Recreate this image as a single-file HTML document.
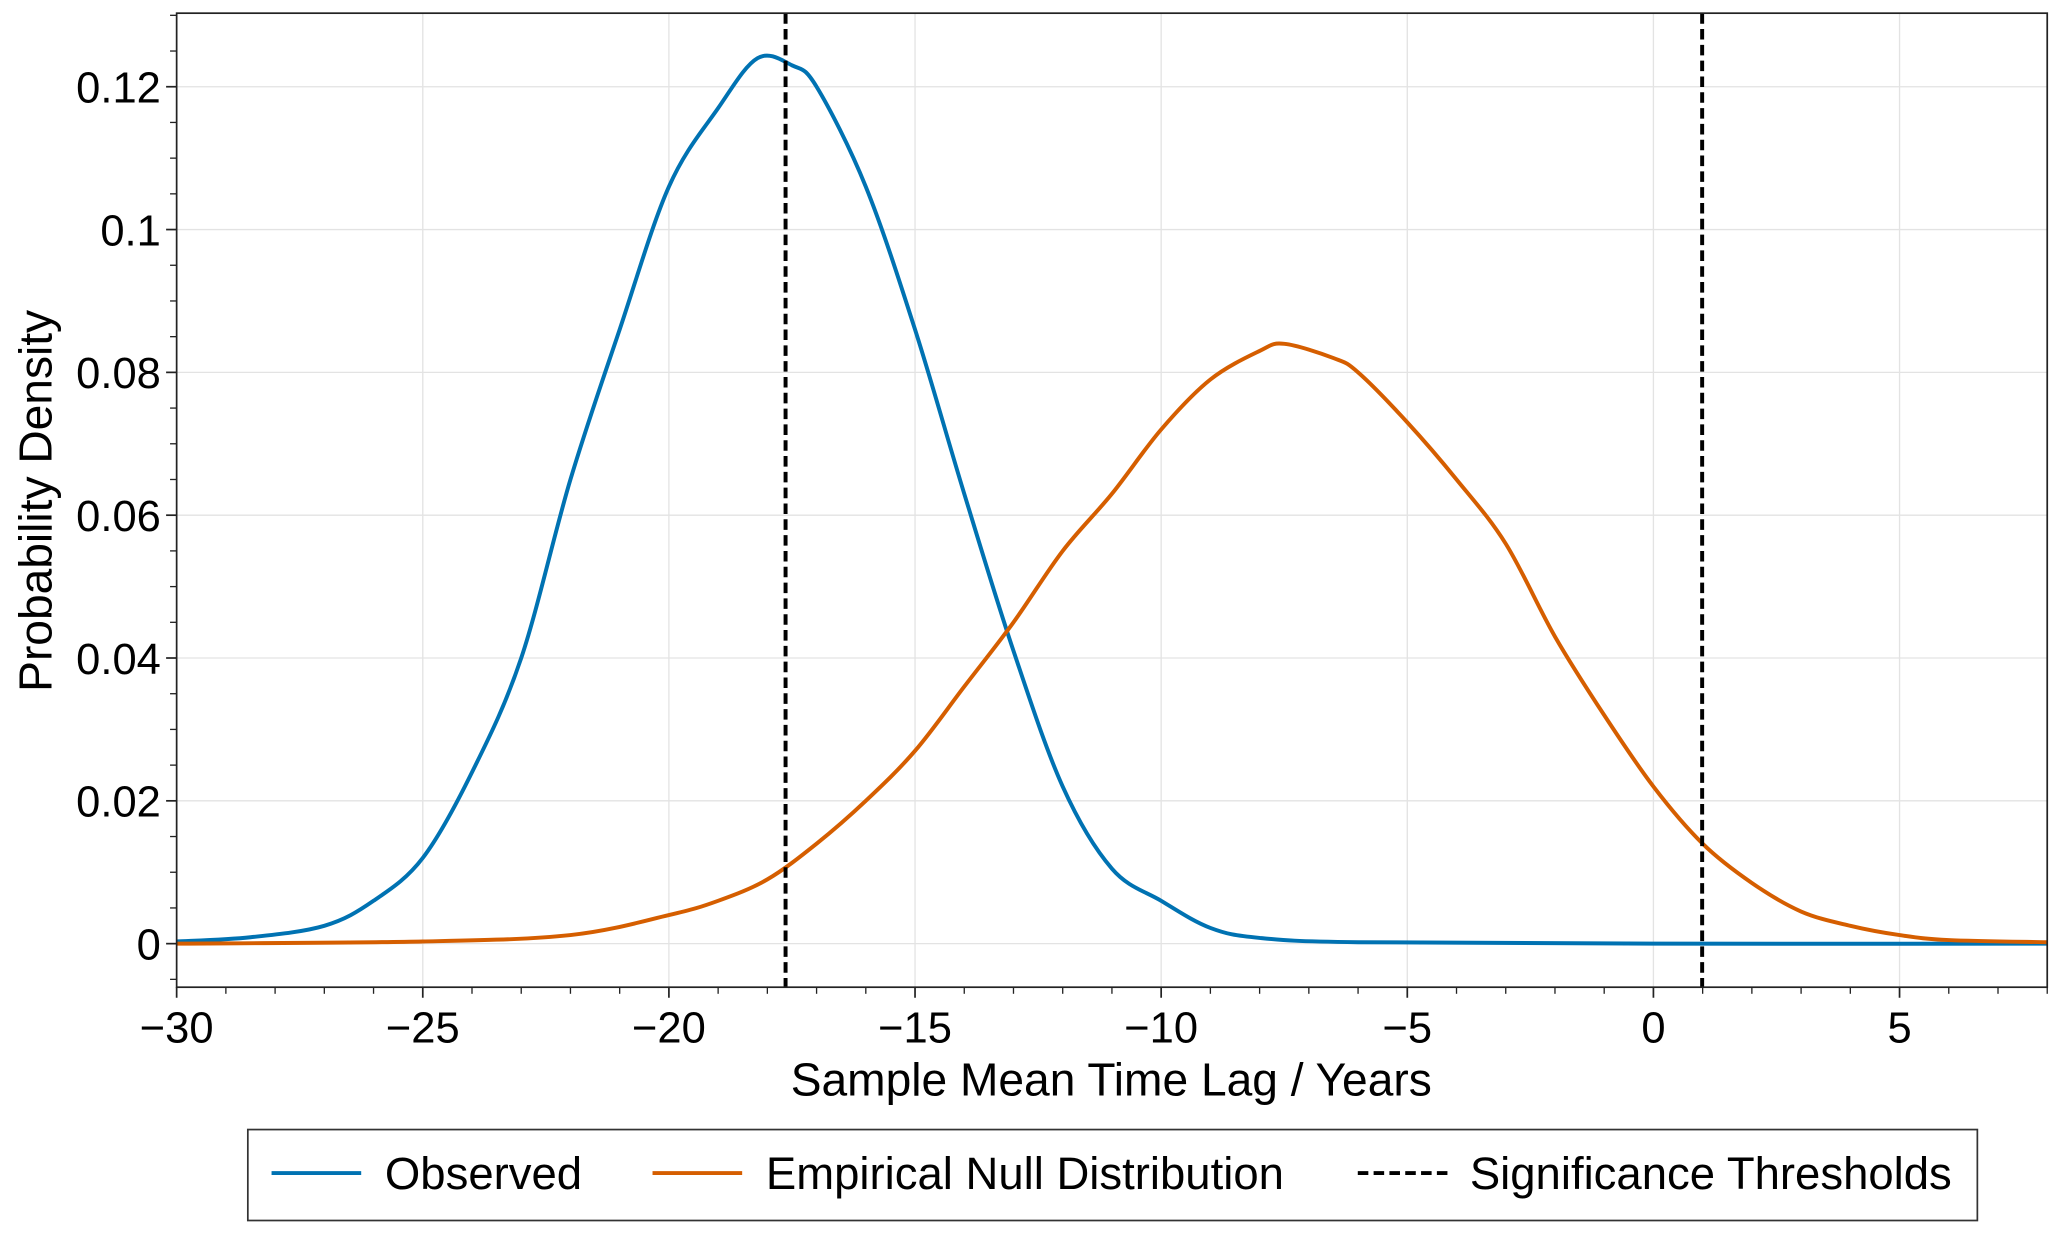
<!DOCTYPE html>
<html><head><meta charset="utf-8"><style>
html,body{margin:0;padding:0;background:#fff;}
svg{display:block;font-family:"Liberation Sans",Arial,sans-serif;}
</style></head><body>
<svg id="chart" width="2067" height="1235" viewBox="0 0 1568 937" preserveAspectRatio="none">
<g id="grid"></g>
<g id="series"></g>
<rect x="134" y="10" width="1419" height="739" fill="none" stroke="#222" stroke-width="1.3"/>
<g id="axes"></g>
<text x="843" y="831" font-size="35" text-anchor="middle">Sample Mean Time Lag / Years</text>
<text transform="translate(39,380) rotate(-90)" font-size="35" text-anchor="middle">Probability Density</text>
<g>
<rect x="188" y="857" width="1312" height="69" fill="#fff" stroke="#333" stroke-width="1.3"/>
<g>
<line x1="206" y1="890" x2="274" y2="890" stroke="#0072B2" stroke-width="3"/>
<text x="292" y="902" font-size="34.5">Observed</text></g>
<g>
<line x1="495" y1="890" x2="563" y2="890" stroke="#D55E00" stroke-width="3"/>
<text x="581" y="902" font-size="34.5">Empirical Null Distribution</text></g>
<g>
<line x1="1030" y1="890" x2="1098" y2="890" stroke="#000" stroke-width="3" stroke-dasharray="8,4"/>
<text x="1115" y="902" font-size="34.5">Significance Thresholds</text></g>
</g>
</svg>
<script>
const xTicks=[-30,-25,-20,-15,-10,-5,0,5];
const yTicks=[0,0.02,0.04,0.06,0.08,0.1,0.12];
const yTickLabels=["0","0.02","0.04","0.06","0.08","0.1","0.12"];
const obsX=[-30,-28.5,-27,-26,-25,-24,-23,-22,-21,-20,-19,-18.2,-17.5,-17,-16,-15,-14,-13,-12,-11,-10,-9,-8,-6,0,8];
const obsY=[0.0003,0.0009,0.0025,0.006,0.012,0.024,0.04,0.065,0.086,0.106,0.117,0.124,0.123,0.12,0.106,0.086,0.063,0.041,0.022,0.0105,0.006,0.0022,0.0008,0.0002,0,0];
const nullX=[-30,-25,-22,-20,-19,-18,-17,-16,-15,-14,-13,-12,-11,-10,-9,-8,-7.5,-6.5,-6,-5,-4,-3,-2,-1,0,1,2,3,4,5,6,8];
const nullY=[0,0.0003,0.0012,0.004,0.006,0.009,0.014,0.02,0.027,0.036,0.045,0.055,0.063,0.072,0.079,0.083,0.084,0.082,0.08,0.073,0.065,0.056,0.043,0.032,0.022,0.014,0.0085,0.0045,0.0025,0.0012,0.0005,0.0002];
const thresholds=[-17.63,0.99];
const X0=134,X1=1553,Y0=749,Y1=10,xmin=-30,xmax=8,ymin=-0.0061,ymax=0.1303;
const sx=v=>X0+(v-xmin)/(xmax-xmin)*(X1-X0);
const sy=v=>Y0-(v-ymin)/(ymax-ymin)*(Y0-Y1);
const NS="http://www.w3.org/2000/svg";
function mk(tag,attrs,parent){const e=document.createElementNS(NS,tag);for(const k in attrs)e.setAttribute(k,attrs[k]);parent.appendChild(e);return e;}
const grid=document.getElementById('grid'),axes=document.getElementById('axes'),ser=document.getElementById('series');
xTicks.forEach(t=>{
 const g=mk('line',{x1:sx(t),x2:sx(t),y1:Y1,y2:Y0,stroke:'#e3e3e3','stroke-width':1},grid);
 
 
 mk('line',{x1:sx(t),x2:sx(t),y1:Y0,y2:Y0+8,stroke:'#222','stroke-width':1.3},axes);
 const tx=mk('text',{x:sx(t),y:Y0+42,'font-size':33,'text-anchor':'middle'},axes);
 tx.textContent=t<0?'\u2212'+Math.abs(t):String(t);
 
 
});
for(let t=-30;t<=8;t++){if(t%5!==0)mk('line',{x1:sx(t),x2:sx(t),y1:Y0,y2:Y0+5,stroke:'#222','stroke-width':1},axes);}
yTicks.forEach((t,i)=>{
 const g=mk('line',{x1:X0,x2:X1,y1:sy(t),y2:sy(t),stroke:'#e3e3e3','stroke-width':1},grid);
 
 
 mk('line',{x1:X0-8,x2:X0,y1:sy(t),y2:sy(t),stroke:'#222','stroke-width':1.3},axes);
 const tx=mk('text',{x:X0-12,y:sy(t)+12,'font-size':33,'text-anchor':'end'},axes);
 tx.textContent=yTickLabels[i];
 
 
});
for(let k=-1;k<=26;k++){const v=k*0.005;if(k%4!==0&&v>ymin&&v<ymax)mk('line',{x1:X0-5,x2:X0,y1:sy(v),y2:sy(v),stroke:'#222','stroke-width':1},axes);}
function path(xs,ys){const p=xs.map((x,i)=>[sx(x),sy(ys[i])]);let d='M'+p[0][0]+','+p[0][1];
 for(let i=0;i<p.length-1;i++){const a=p[Math.max(i-1,0)],b=p[i],c=p[i+1],e=p[Math.min(i+2,p.length-1)];
 d+=' C'+(b[0]+(c[0]-a[0])/6)+','+(b[1]+(c[1]-a[1])/6)+' '+(c[0]-(e[0]-b[0])/6)+','+(c[1]-(e[1]-b[1])/6)+' '+c[0]+','+c[1];}
 return d;}
const po=mk('path',{d:path(obsX,obsY),fill:'none',stroke:'#0072B2','stroke-width':3},ser);


const pn=mk('path',{d:path(nullX,nullY),fill:'none',stroke:'#D55E00','stroke-width':3},ser);


thresholds.forEach(t=>{
 const l=mk('line',{x1:sx(t),x2:sx(t),y1:Y1,y2:Y0,stroke:'#000','stroke-width':3,'stroke-dasharray':'8,4'},ser);
 
 
});
</script>
</body></html>
